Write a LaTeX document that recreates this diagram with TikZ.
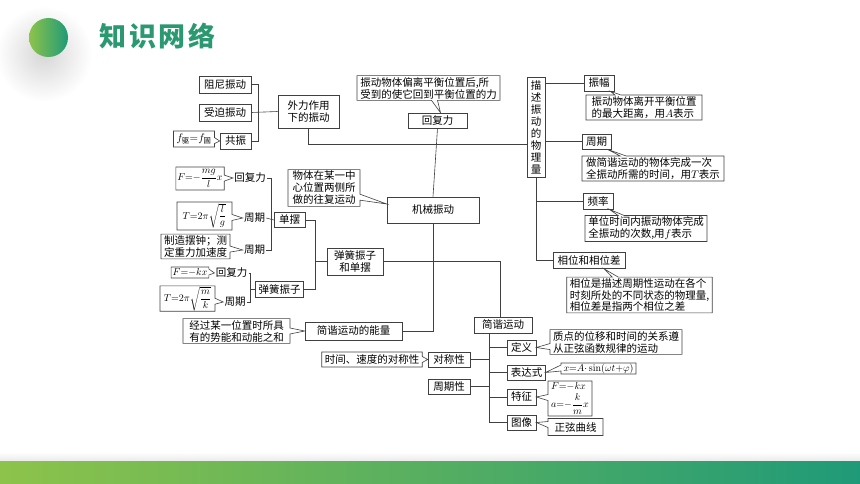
\documentclass[tikz,border=0pt]{standalone}
\usepackage{amsmath}
\usepackage[no-math]{fontspec}
\setmainfont{Noto Sans CJK SC}
\usetikzlibrary{positioning,shapes.callouts}
\definecolor{leafgreen}{HTML}{8DC34A}
\definecolor{seagreen}{HTML}{1F9A78}
\definecolor{titlegreen}{HTML}{2A9870}

\begin{document}
\begin{tikzpicture}[x=1pt, y=-1pt, line width=.6pt,
  every node/.style={font=\fontsize{10.5}{12}\selectfont},
  box/.style={draw=black!75, rectangle, inner xsep=3pt, inner ysep=1.5pt, align=center},
  lbl/.style={inner sep=1pt},
  note/.style={rectangle callout, draw=black!75, align=left, inner xsep=3pt, inner ysep=1.5pt, callout pointer width=6pt, callout absolute pointer={#1}},
  eq/.style={font=\fontsize{10}{11.5}\selectfont, inner xsep=1.5pt, inner ysep=.5pt},
  link/.style={draw=black!75}]
\useasboundingbox (0,0) rectangle (860,484);
\shade[inner color=black!16, outer color=white] (44,54) circle (48pt);
\shade[left color=leafgreen, right color=seagreen] (48.5,37.5) circle (19.5pt);
\node[text=titlegreen, font=\fontsize{27}{30}\selectfont\bfseries\addfontfeatures{LetterSpace=10}] (title) at (157.5,36) {知识网络};
\shade[top color=white, bottom color=black!8] (0,452) rectangle (860,461);
\shade[left color=leafgreen, right color=seagreen] (0,461) rectangle (860,484);

\node[box, minimum width=52pt, minimum height=17pt] (damp) at (225,84.5) {阻尼振动};
\node[box, minimum width=52pt, minimum height=17pt] (forced) at (225,112.5) {受迫振动};
\node[box, minimum width=31pt, minimum height=16pt] (reso) at (235.5,141) {共振};
\node[box, minimum width=61pt, minimum height=33pt] (ext) at (308.5,111.5) {外力作用\\下的振动};
\node[box, minimum width=59pt, minimum height=15pt] (restore) at (437.5,120.5) {回复力};
\node[box, minimum width=92pt, minimum height=26pt] (mech) at (433,210) {机械振动};
\node[box, inner xsep=2pt, minimum width=18pt, minimum height=100pt] (phys) at (536,127) {描\\述\\振\\动\\的\\物\\理\\量};
\node[box, minimum width=30pt, minimum height=16pt] (amp) at (599,83) {振幅};
\node[box, minimum width=29pt, minimum height=15pt] (per) at (596.5,141.5) {周期};
\node[box, minimum width=30pt, minimum height=16pt] (freq) at (598,201) {频率};
\node[box, minimum width=72pt, minimum height=16pt] (phase) at (589,260.5) {相位和相位差};
\node[box, minimum width=31pt, minimum height=15pt] (pend) at (289.5,220) {单摆};
\node[box, minimum width=45pt, minimum height=16pt] (spring) at (279.5,289) {弹簧振子};
\node[box, minimum width=56pt, minimum height=27pt] (both) at (355,261.5) {弹簧振子\\和单摆};
\node[box, minimum width=97pt, minimum height=18pt] (energy) at (353.5,331) {简谐运动的能量};
\node[box, minimum width=58pt, minimum height=16pt] (shm) at (503,325) {简谐运动};
\node[box, minimum width=29pt, minimum height=15pt] (def) at (521.5,347.5) {定义};
\node[box, minimum width=42pt, minimum height=15pt] (sym) at (449,359.5) {对称性};
\node[box, minimum width=37pt, minimum height=15pt] (expr) at (526.5,372.5) {表达式};
\node[box, minimum width=42pt, minimum height=15pt] (periodic) at (449,386.5) {周期性};
\node[box, minimum width=29pt, minimum height=16pt] (feat) at (521.5,397) {特征};
\node[box, minimum width=29pt, minimum height=15pt] (img) at (521.5,422.5) {图像};

\node[lbl] (rf1) at (250,178) {回复力};
\node[lbl] (per1) at (254.5,218) {周期};
\node[lbl] (per2) at (254.5,250) {周期};
\node[lbl] (rf2) at (231.5,273) {回复力};
\node[lbl] (per3) at (235,302) {周期};

\coordinate (j1) at (258,84.5);
\coordinate (j2) at (271,178);
\coordinate (j3) at (250,273);
\coordinate (j4) at (315,220);
\coordinate (trunk) at (489,333);

\draw[link] (damp.east) -- (j1) |- (reso.east);
\draw[link] (forced.east) -- (ext.west);
\draw[link] (ext.south) |- ([yshift=-17pt]phys.west);
\draw[link] (restore.south) -- (mech.north);
\draw[link] (mech.south) |- (energy.east);
\draw[link] (amp.west) -- (amp.west -| phys.east);
\draw[link] (per.west) -- (per.west -| phys.east);
\draw[link] (phys.south) |- (phase.west);
\draw[link] (freq.west) -- (freq.west -| phys.south);
\draw[link] (rf1.east) -- (j2) |- (per2.east);
\draw[link] (per1.east) -- (pend.west);
\draw[link] (rf2.east) -- (j3) |- (per3.east);
\draw[link] (spring.west) -- (spring.west -| j3);
\draw[link] (pend.east) -- (j4) |- (spring.east);
\draw[link] (both.west) -- (both.west -| j4);
\draw[link] (both.east) -| ([xshift=-3pt]shm.north);
\draw[link] (trunk) |- (img.west);
\foreach \n in {def, expr, feat} \draw[link] (\n.west) -- (\n.west -| trunk);
\foreach \n in {sym, periodic} \draw[link] (\n.east) -- (\n.east -| trunk);

\node[note={(reso.west)}, minimum width=36pt, minimum height=16pt] (fres) at (194,139) {$f_{\text{驱}}{=}f_{\text{固}}$};
\node[note={([xshift=3pt]restore.north)}, minimum width=143pt] (restdesc) at (428.5,88) {振动物体偏离平衡位置后,所\\受到的使它回到平衡位置的力};
\node[note={([yshift=6pt]mech.west)}, minimum width=72pt] (mechdesc) at (324,188) {物体在某一中\\心位置两侧所\\做的往复运动};
\node[note={([xshift=-4pt]amp.south east)}, minimum width=116pt] (ampdesc) at (644,107.5) {振动物体离开平衡位置\\的最大距离，用$A$表示};
\node[note={([xshift=-4pt]per.south east)}, minimum width=142pt] (perdesc) at (653,168.5) {做简谐运动的物体完成一次\\全振动所需的时间，用$T$表示};
\node[note={([xshift=-4pt]freq.south east)}, minimum width=122pt] (freqdesc) at (646,228.5) {单位时间内振动物体完成\\全振动的次数,用$f$表示};
\node[note={([xshift=15pt]phase.south)}, minimum width=145pt, font=\fontsize{10.5}{11.5}\selectfont] (phasedesc) at (639.5,295) {相位是描述周期性运动在各个\\时刻所处的不同状态的物理量,\\相位差是指两个相位之差};
\node[note={(rf1.west)}, eq, minimum width=46pt, minimum height=23pt] (fmg) at (200,178.5) {$F{=}{-}\dfrac{mg}{l}x$};
\node[note={(per1.west)}, eq, minimum width=55pt, minimum height=28pt] (tl) at (204.5,216) {$T{=}2\pi\sqrt{\dfrac{l}{g}}$};
\node[note={(per2.west)}, minimum width=65pt] (clock) at (195.5,246.5) {制造摆钟；测\\定重力加速度};
\node[note={(rf2.west)}, eq, minimum width=32pt, minimum height=11pt] (kx) at (190,272.5) {$F{=}{-}kx$};
\node[note={(per3.west)}, eq, minimum width=55pt, minimum height=23pt] (tmk) at (187.5,298.5) {$T{=}2\pi\sqrt{\dfrac{m}{k}}$};
\node[note={(energy.west)}, minimum width=107pt] (endesc) at (236.5,331) {经过某一位置时所具\\有的势能和动能之和};
\node[note={(def.east)}, minimum width=128pt] (defdesc) at (616,342) {质点的位移和时间的关系遵\\从正弦函数规律的运动};
\node[note={(sym.west)}, minimum width=98pt, minimum height=15pt] (symdesc) at (372,359.5) {时间、速度的对称性};
\node[note={(expr.east)}, eq, minimum width=75pt, minimum height=11pt] (exprdesc) at (598.5,368.5) {$x{=}A{\cdot}\sin(\omega t{+}\varphi)$};
\node[note={(feat.east)}, eq, minimum width=44pt, minimum height=35pt] (featdesc) at (570,398.5) {$F{=}{-}kx$\\[2pt]$a{=}{-}\dfrac{k}{m}x$};
\node[note={(img.east)}, minimum width=55pt, minimum height=17pt] (imgdesc) at (575.5,427) {正弦曲线};
\end{tikzpicture}
\end{document}
